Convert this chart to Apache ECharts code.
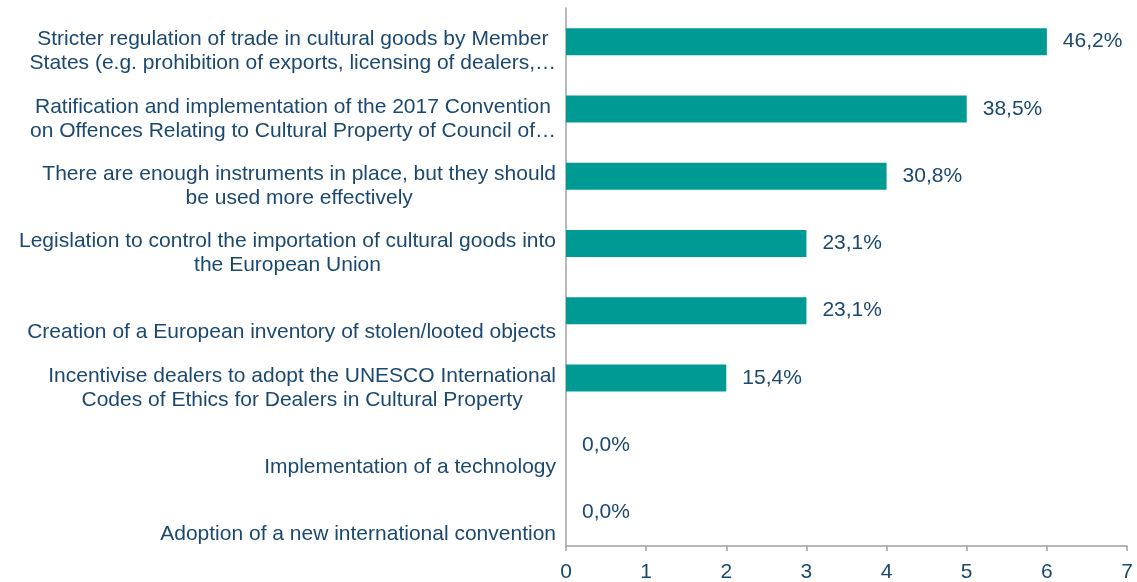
<!DOCTYPE html>
<html>
<head>
<meta charset="utf-8">
<script src="https://cdn.jsdelivr.net/npm/echarts@6/dist/echarts.min.js"></script>
<style>
html,body{margin:0;padding:0;background:#fff;}
#chart{width:1137px;height:582px;}
</style>
</head>
<body>
<div id="chart"></div>
<script>
// Categories (top to bottom), with their line breaks as in the reference
const categories = [
  ['Stricter regulation of trade in cultural goods by Member', 'States (e.g. prohibition of exports, licensing of dealers,…'],
  ['Ratification and implementation of the 2017 Convention', 'on Offences Relating to Cultural Property of Council of…'],
  ['There are enough instruments in place, but they should', 'be used more effectively'],
  ['Legislation to control the importation of cultural goods into', 'the European Union'],
  ['', 'Creation of a European inventory of stolen/looted objects'],
  ['Incentivise dealers to adopt the UNESCO International', 'Codes of Ethics for Dealers in Cultural Property'],
  ['', 'Implementation of a technology'],
  ['', 'Adoption of a new international convention']
];
const values = [6, 5, 4, 3, 3, 2, 0, 0];
const percentLabels = ['46,2%', '38,5%', '30,8%', '23,1%', '23,1%', '15,4%', '0,0%', '0,0%'];
const xTicks = [0, 1, 2, 3, 4, 5, 6, 7];

const textColor = '#1A4870';
const barColor = '#009A94';
const font = 'Liberation Sans, Arial, sans-serif';
const fs = 21;

const chart = echarts.init(document.getElementById('chart'));
const catKeys = categories.map((c, i) => String(i));

chart.setOption({
  animation: false,
  grid: { left: 566, right: 10, top: 8, bottom: 36, containLabel: false, outerBoundsMode: 'none' },
  xAxis: {
    type: 'value',
    min: xTicks[0],
    max: xTicks[xTicks.length - 1],
    interval: 1,
    splitLine: { show: false },
    axisLine: { show: true, lineStyle: { color: '#A0A0A0', width: 1.5 } },
    axisTick: { show: true, length: 5, lineStyle: { color: '#A0A0A0', width: 1.5 } },
    axisLabel: { color: textColor, fontSize: fs, fontFamily: font, margin: 16 }
  },
  yAxis: {
    type: 'category',
    inverse: true,
    data: catKeys,
    axisLine: { show: true, lineStyle: { color: '#A0A0A0', width: 1.5 } },
    axisTick: { show: false },
    axisLabel: {
      margin: 10,
      align: 'right',
      padding: [20, 0, 0, 0],
      interval: 0,
      formatter: function (v) {
        const lines = categories[Number(v)];
        return lines.map(l => '{c|' + l + '}').join('\n');
      },
      rich: {
        c: { align: 'center', color: textColor, fontSize: fs, fontFamily: font, lineHeight: 24 }
      }
    }
  },
  series: [{
    type: 'bar',
    data: values,
    barWidth: 27,
    itemStyle: { color: barColor },
    label: {
      show: true,
      position: 'right',
      distance: 16,
      color: textColor,
      fontSize: fs,
      fontFamily: font,
      formatter: p => percentLabels[p.dataIndex]
    }
  }]
});
</script>
</body>
</html>
